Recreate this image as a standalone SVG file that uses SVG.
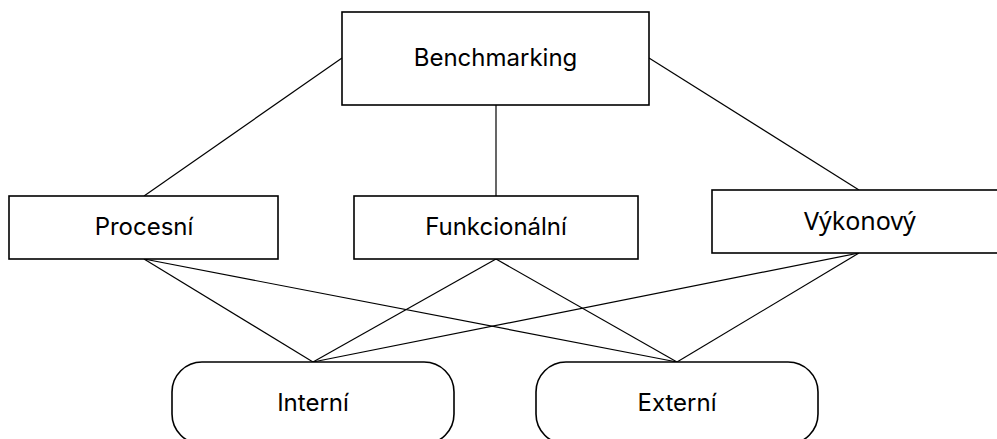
<svg xmlns="http://www.w3.org/2000/svg" width="997" height="439" viewBox="0 0 997 439">
  <style>
    .box { fill: #ffffff; stroke: #000000; stroke-width: 1.6; }
    .link { stroke: #000000; stroke-width: 1.2; fill: none; }
    .label { font-family: Inter, "Liberation Sans", sans-serif; font-size: 24px; fill: #000000; text-anchor: middle; }
    .label-alt { font-family: "Noto Sans", "Liberation Sans", sans-serif; font-size: 25px; fill: #000000; text-anchor: middle; }
  </style>
  <rect width="997" height="439" fill="#ffffff"/>

  <!-- connectors -->
  <g id="connectors">
    <line class="link" x1="342" y1="58" x2="144" y2="196"/>
    <line class="link" x1="496" y1="105" x2="496" y2="196"/>
    <line class="link" x1="649" y1="58" x2="859" y2="190"/>
    <line class="link" x1="144" y1="259" x2="313" y2="362"/>
    <line class="link" x1="144" y1="259" x2="677" y2="362"/>
    <line class="link" x1="496" y1="259" x2="313" y2="362"/>
    <line class="link" x1="496" y1="259" x2="677" y2="362"/>
    <line class="link" x1="859" y1="253" x2="313" y2="362"/>
    <line class="link" x1="859" y1="253" x2="677" y2="362"/>
  </g>

  <g id="benchmarking">
    <rect class="box" x="342" y="12" width="307" height="93"/>
    <text class="label" x="495.5" y="66">Benchmarking</text>
  </g>

  <g id="procesni">
    <rect class="box" x="9" y="196" width="269" height="63"/>
    <text class="label" x="144" y="235">Procesní</text>
  </g>

  <g id="funkcionalni">
    <rect class="box" x="354" y="196" width="284" height="63"/>
    <text class="label" x="496" y="235">Funkcionální</text>
  </g>

  <g id="vykonovy">
    <rect class="box" x="712" y="190" width="292" height="63"/>
    <text class="label-alt" x="860" y="230">Výkonový</text>
  </g>

  <g id="interni">
    <rect class="box" x="172" y="362" width="282" height="82" rx="30" ry="30"/>
    <text class="label" x="313" y="411">Interní</text>
  </g>

  <g id="externi">
    <rect class="box" x="536" y="362" width="282" height="82" rx="30" ry="30"/>
    <text class="label" x="677" y="411">Externí</text>
  </g>
</svg>
